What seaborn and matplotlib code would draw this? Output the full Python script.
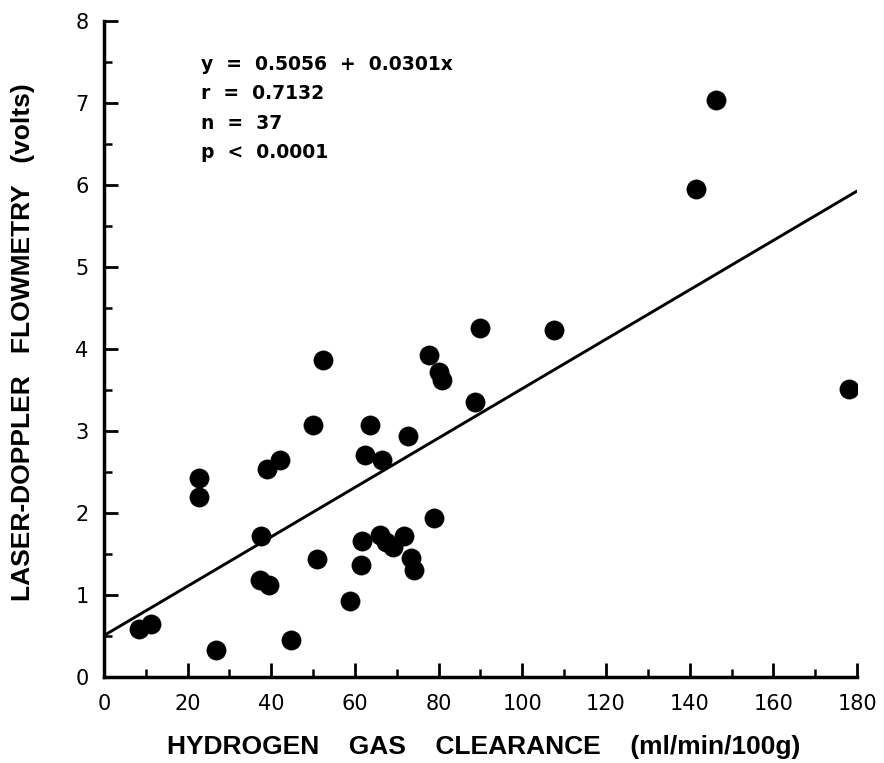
import numpy as np
import pandas as pd
import matplotlib
matplotlib.use("Agg")
import matplotlib.pyplot as plt
from matplotlib.ticker import MultipleLocator
import seaborn as sns

# ---- data ----
h2_clearance = [8.4, 11.2, 26.7, 44.7, 22.8, 22.8, 37.6, 37.3, 39.5, 38.9,
                42.1, 51.0, 58.7, 61.5, 61.6, 65.9, 67.5, 69.2, 71.8, 73.4,
                74.2, 78.8, 49.9, 63.6, 72.6, 62.4, 66.4, 52.3, 77.6, 80.2,
                80.8, 88.8, 90.0, 107.5, 141.4, 146.3, 178.1]
ldf_volts = [0.59, 0.65, 0.33, 0.45, 2.43, 2.20, 1.72, 1.18, 1.12, 2.53,
             2.65, 1.44, 0.93, 1.37, 1.66, 1.73, 1.64, 1.58, 1.72, 1.45,
             1.30, 1.94, 3.07, 3.07, 2.94, 2.71, 2.65, 3.86, 3.92, 3.72,
             3.62, 3.35, 4.26, 4.23, 5.95, 7.03, 3.51]
fit_intercept = 0.5056
fit_slope = 0.0301
fit_x_range = [0, 180]
stats_lines = ["y  =  0.5056  +  0.0301x", "r  =  0.7132", "n  =  37", "p  <  0.0001"]
x_ticks = [0, 20, 40, 60, 80, 100, 120, 140, 160, 180]
y_ticks = [0, 1, 2, 3, 4, 5, 6, 7, 8]

df = pd.DataFrame({"x": h2_clearance, "y": ldf_volts})
fit_x = np.array(fit_x_range, dtype=float)
fit_df = pd.DataFrame({"x": fit_x, "y": fit_intercept + fit_slope * fit_x})

sns.set_style("ticks")
plt.rcParams["font.family"] = ["Liberation Sans", "DejaVu Sans"]
plt.rcParams["text.color"] = "black"
plt.rcParams["axes.labelcolor"] = "black"
plt.rcParams["xtick.color"] = "black"
plt.rcParams["ytick.color"] = "black"

fig = plt.figure(figsize=(8.84, 7.63), dpi=100)
ax = fig.add_axes([0.1176, 0.1127, 0.8519, 0.8602])

sns.lineplot(data=fit_df, x="x", y="y", ax=ax, color="black", linewidth=2.1)
sns.scatterplot(data=df, x="x", y="y", ax=ax, color="black", s=190,
                edgecolor="black", linewidth=0.5, zorder=3)

ax.set_xlim(0, 180)
ax.set_ylim(0, 8)
ax.set_xticks(x_ticks)
ax.set_yticks(y_ticks)
ax.xaxis.set_minor_locator(MultipleLocator(10))
ax.yaxis.set_minor_locator(MultipleLocator(0.5))
ax.set_xticklabels([str(t) for t in x_ticks])
ax.set_yticklabels([str(t) for t in y_ticks])
ax.tick_params(axis="both", which="both", bottom=True, left=True,
               top=False, right=False, direction="in", color="black",
               labelcolor="black", labelsize=15, labelfontfamily="DejaVu Sans")
ax.tick_params(axis="both", which="major", length=10, width=2)
ax.tick_params(axis="both", which="minor", length=6, width=1.8)
ax.tick_params(axis="x", which="major", pad=12)
ax.tick_params(axis="y", which="major", pad=11)

for side in ["top", "right"]:
    ax.spines[side].set_visible(False)
for side in ["left", "bottom"]:
    ax.spines[side].set_color("black")
    ax.spines[side].set_linewidth(2.5)

ax.set_xlabel("HYDROGEN    GAS    CLEARANCE    (ml/min/100g)", fontsize=19,
              fontweight="bold", va="center", color="black")
ax.set_ylabel("LASER-DOPPLER   FLOWMETRY   (volts)", fontsize=19,
              fontweight="bold", va="center", color="black")
ax.xaxis.set_label_coords(0.5047, -0.1065)
ax.yaxis.set_label_coords(-0.1076, 0.5107)

for i, line in enumerate(stats_lines):
    ax.text(0.1295, 0.9253 - i * 0.0449, line, transform=ax.transAxes,
            fontsize=13.5, fontweight="bold", family="DejaVu Sans",
            color="black", va="baseline", ha="left")

fig.savefig("out.png", dpi=100)
